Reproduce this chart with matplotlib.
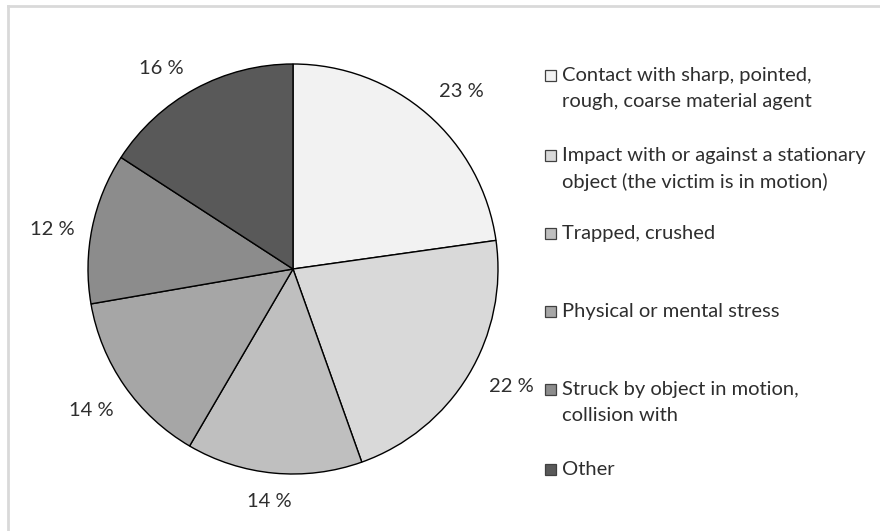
import matplotlib
matplotlib.use("Agg")
import numpy as np
import matplotlib.pyplot as plt
from matplotlib.patches import Rectangle
from matplotlib.lines import Line2D

categories = [
    "Contact with sharp, pointed,\nrough, coarse material agent",
    "Impact with or against a stationary\nobject (the victim is in motion)",
    "Trapped, crushed",
    "Physical or mental stress",
    "Struck by object in motion,\ncollision with",
    "Other",
]
values = [23, 22, 14, 14, 12, 16]
pct_labels = ["23 %", "22 %", "14 %", "14 %", "12 %", "16 %"]
colors = ["#f2f2f2", "#d9d9d9", "#bfbfbf", "#a6a6a6", "#8c8c8c", "#595959"]

W, H = 880, 531
fig = plt.figure(figsize=(W / 100, H / 100), dpi=100)
plt.rcParams['font.family'] = ['Lato', 'DejaVu Sans']
FS = 14.5
TXT = "#2e2e2e"

cx, cy, r = 293, 269, 205
ax = fig.add_axes([(cx - r) / W, (H - cy - r) / H, 2 * r / W, 2 * r / H])
wedges, texts = ax.pie(values, colors=colors, startangle=90, counterclock=False,
                       labels=pct_labels, labeldistance=1.18,
                       wedgeprops=dict(edgecolor="black", linewidth=1.0),
                       textprops=dict(fontsize=FS, color=TXT))
ax.set_xlim(-1, 1)
ax.set_ylim(-1, 1)
ax.set_aspect("equal")
ax.axis("off")

# place percentage labels like the reference (centered, per-label offset/distance)
label_offset = [-2.6, 2.9, -0.6, 0.3, 2.2, 4.8]
label_dist = [1.194, 1.21, 1.138, 1.204, 1.19, 1.173]
for w, t, o, d in zip(wedges, texts, label_offset, label_dist):
    ang = np.deg2rad((w.theta1 + w.theta2) / 2 + o)
    t.set_position((d * np.cos(ang), d * np.sin(ang)))
    t.set_ha("center")
    t.set_va("center")

# border (top and left, as in the cropped reference)
fig.add_artist(Line2D([8 / W, 8 / W], [0, 1 - 6 / H], transform=fig.transFigure,
                      color="#d9d9d9", linewidth=2))
fig.add_artist(Line2D([8 / W, 1], [1 - 6 / H, 1 - 6 / H], transform=fig.transFigure,
                      color="#d9d9d9", linewidth=2))

# legend, drawn manually
legend_y = [75, 155, 233, 311, 389, 469]
for lab, col, y in zip(categories, colors, legend_y):
    s = 11
    fig.add_artist(Rectangle(((550 - s / 2) / W, (H - y - s / 2) / H), s / W, s / H,
                             transform=fig.transFigure, facecolor=col,
                             edgecolor="#404040", linewidth=0.9))
    fig.text(562 / W, (H - y + 8) / H, lab, fontsize=FS, color=TXT,
             ha="left", va="top", linespacing=1.62)

fig.savefig("out.png", dpi=100, facecolor="white")
